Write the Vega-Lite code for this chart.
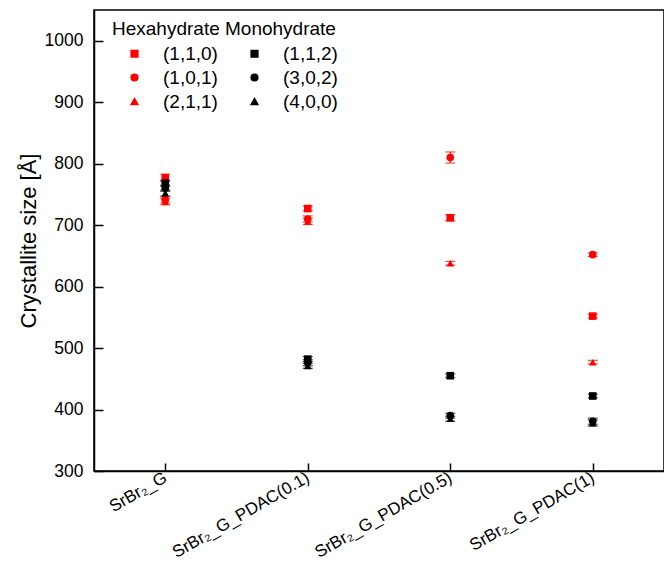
{
  "$schema": "https://vega.github.io/schema/vega-lite/v6.json",
  "width": 570,
  "height": 461,
  "autosize": "none",
  "padding": {"left": 94, "top": 10, "right": 0, "bottom": 91},
  "config": {
    "font": "Liberation Sans",
    "view": {"stroke": "black", "strokeWidth": 1.5},
    "axis": {"domainColor": "black", "domainWidth": 1.5, "tickColor": "black", "tickWidth": 1.5, "labelColor": "black", "titleColor": "black", "grid": false}
  },
  "data": {
    "values": [
      {"sample": "SrBr₂_G", "plane": "(1,1,0)", "size": 777, "lo": 771, "hi": 783},
      {"sample": "SrBr₂_G", "plane": "(1,0,1)", "size": 741, "lo": 736, "hi": 746},
      {"sample": "SrBr₂_G", "plane": "(2,1,1)", "size": 738, "lo": 733, "hi": 743},
      {"sample": "SrBr₂_G", "plane": "(1,1,2)", "size": 768, "lo": 763, "hi": 773},
      {"sample": "SrBr₂_G", "plane": "(3,0,2)", "size": 760, "lo": 755, "hi": 765},
      {"sample": "SrBr₂_G", "plane": "(4,0,0)", "size": 752, "lo": 747, "hi": 757},
      {"sample": "SrBr₂_G_PDAC(0.1)", "plane": "(1,1,0)", "size": 727, "lo": 723, "hi": 731},
      {"sample": "SrBr₂_G_PDAC(0.1)", "plane": "(1,0,1)", "size": 710, "lo": 705, "hi": 715},
      {"sample": "SrBr₂_G_PDAC(0.1)", "plane": "(2,1,1)", "size": 706, "lo": 701, "hi": 711},
      {"sample": "SrBr₂_G_PDAC(0.1)", "plane": "(1,1,2)", "size": 482, "lo": 478, "hi": 486},
      {"sample": "SrBr₂_G_PDAC(0.1)", "plane": "(3,0,2)", "size": 476, "lo": 471, "hi": 481},
      {"sample": "SrBr₂_G_PDAC(0.1)", "plane": "(4,0,0)", "size": 471, "lo": 467, "hi": 475},
      {"sample": "SrBr₂_G_PDAC(0.5)", "plane": "(1,1,0)", "size": 712, "lo": 707, "hi": 717},
      {"sample": "SrBr₂_G_PDAC(0.5)", "plane": "(1,0,1)", "size": 810, "lo": 801, "hi": 819},
      {"sample": "SrBr₂_G_PDAC(0.5)", "plane": "(2,1,1)", "size": 638, "lo": 635, "hi": 641},
      {"sample": "SrBr₂_G_PDAC(0.5)", "plane": "(1,1,2)", "size": 455, "lo": 452, "hi": 458},
      {"sample": "SrBr₂_G_PDAC(0.5)", "plane": "(3,0,2)", "size": 390, "lo": 386, "hi": 394},
      {"sample": "SrBr₂_G_PDAC(0.5)", "plane": "(4,0,0)", "size": 385, "lo": 381, "hi": 389},
      {"sample": "SrBr₂_G_PDAC(1)", "plane": "(1,1,0)", "size": 552, "lo": 549, "hi": 555},
      {"sample": "SrBr₂_G_PDAC(1)", "plane": "(1,0,1)", "size": 652, "lo": 649, "hi": 655},
      {"sample": "SrBr₂_G_PDAC(1)", "plane": "(2,1,1)", "size": 477, "lo": 474, "hi": 480},
      {"sample": "SrBr₂_G_PDAC(1)", "plane": "(1,1,2)", "size": 422, "lo": 419, "hi": 425},
      {"sample": "SrBr₂_G_PDAC(1)", "plane": "(3,0,2)", "size": 381, "lo": 376, "hi": 386},
      {"sample": "SrBr₂_G_PDAC(1)", "plane": "(4,0,0)", "size": 378, "lo": 373, "hi": 383}
    ]
  },
  "encoding": {
    "x": {
      "field": "sample", "type": "nominal",
      "scale": {"type": "point", "padding": 0.5, "domain": ["SrBr₂_G", "SrBr₂_G_PDAC(0.1)", "SrBr₂_G_PDAC(0.5)", "SrBr₂_G_PDAC(1)"]},
      "axis": {"title": null, "labelAngle": -30, "labelAlign": "right", "labelBaseline": "middle", "labelFontSize": 17, "tickSize": -8, "labelPadding": 13}
    },
    "color": {
      "field": "plane", "type": "nominal",
      "scale": {"domain": ["(1,1,0)", "(1,0,1)", "(2,1,1)", "(1,1,2)", "(3,0,2)", "(4,0,0)"], "range": ["#ff0000", "#ff0000", "#ff0000", "#000000", "#000000", "#000000"]},
      "legend": {"orient": "none", "legendX": 18, "legendY": 10, "columns": 2, "title": "Hexahydrate Monohydrate", "titleLimit": 600, "titleFontSize": 19, "titleFontWeight": "normal", "titleColor": "black", "labelFontSize": 19, "labelColor": "black", "symbolSize": 45, "symbolOpacity": 1, "symbolOffset": 13, "labelOffset": 19, "columnPadding": 14, "rowPadding": 4, "titlePadding": 5}
    }
  },
  "layer": [
    {
      "mark": {"type": "rule", "strokeWidth": 1.2},
      "encoding": {
        "y": {"field": "lo", "type": "quantitative"},
        "y2": {"field": "hi"}
      }
    },
    {
      "mark": {"type": "tick", "size": 10, "thickness": 1.2},
      "encoding": {"y": {"field": "lo", "type": "quantitative"}}
    },
    {
      "mark": {"type": "tick", "size": 10, "thickness": 1.2},
      "encoding": {"y": {"field": "hi", "type": "quantitative"}}
    },
    {
      "mark": {"type": "point", "filled": true, "size": 58, "opacity": 1},
      "encoding": {
        "y": {
          "field": "size", "type": "quantitative",
          "scale": {"domain": [300, 1050], "nice": false, "zero": false},
          "axis": {"title": "Crystallite size [Å]", "titleFontSize": 22, "titleFontWeight": "normal", "titlePadding": 4, "values": [300, 350, 400, 450, 500, 550, 600, 650, 700, 750, 800, 850, 900, 950, 1000], "format": "d", "labelExpr": "datum.value % 100 === 0 ? datum.label : ''", "labelFontSize": 17.5, "tickSize": -9, "labelPadding": 20}
        },
        "shape": {
          "field": "plane", "type": "nominal",
          "scale": {"domain": ["(1,1,0)", "(1,0,1)", "(2,1,1)", "(1,1,2)", "(3,0,2)", "(4,0,0)"], "range": ["square", "circle", "triangle-up", "square", "circle", "triangle-up"]},
          "legend": {"orient": "none", "legendX": 18, "legendY": 10, "columns": 2, "title": "Hexahydrate Monohydrate", "titleLimit": 600, "titleFontSize": 19, "titleFontWeight": "normal", "titleColor": "black", "labelFontSize": 19, "labelColor": "black", "symbolSize": 45, "symbolOpacity": 1, "symbolOffset": 13, "labelOffset": 19, "columnPadding": 14, "rowPadding": 4, "titlePadding": 5}
        }
      }
    }
  ]
}
